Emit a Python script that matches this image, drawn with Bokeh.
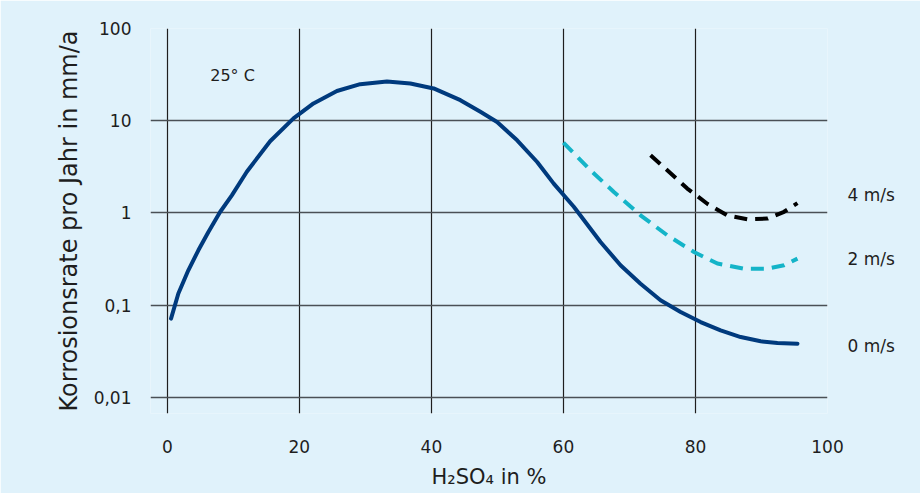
from bokeh.plotting import figure
from bokeh.models import Range1d, FixedTicker, Label, LogAxis
from bokeh.embed import file_html
from bokeh.resources import INLINE

# ---- data ----
x_0ms = [0.56, 1.67, 3.18, 4.70, 6.22, 7.99, 9.77, 12.04, 15.57, 19.11, 22.14, 25.69,
         29.22, 33.27, 36.81, 40.34, 44.39, 47.42, 49.95, 52.99, 56.02, 58.53, 61.57,
         65.62, 68.65, 71.68, 74.71, 77.75, 80.78, 83.81, 86.85, 89.88, 92.42, 95.45]
y_0ms = [0.0716, 0.134, 0.239, 0.394, 0.623, 1.025, 1.55, 2.80, 6.0, 10.6, 15.4, 21.0,
         24.9, 26.6, 25.3, 22.4, 16.7, 12.5, 9.7, 6.14, 3.57, 2.08, 1.17,
         0.485, 0.271, 0.171, 0.113, 0.0843, 0.0657, 0.0534, 0.0452, 0.0406, 0.0389, 0.0383]

x_2ms = [60.0, 64.1, 67.64, 71.68, 75.73, 79.77, 83.32, 87.36, 90.9, 93.42, 95.45]
y_2ms = [5.8, 2.9, 1.69, 0.944, 0.573, 0.378, 0.283, 0.249, 0.249, 0.271, 0.32]

x_4ms = [73.2, 75.73, 78.76, 81.79, 84.82, 87.86, 90.9, 93.42, 95.45]
y_4ms = [4.22, 2.9, 1.84, 1.26, 0.944, 0.855, 0.869, 1.03, 1.28]

series_labels = ["0 m/s", "2 m/s", "4 m/s"]
x_ticks = [0, 20, 40, 60, 80, 100]
y_ticks = [0.01, 0.1, 1, 10, 100]
y_tick_labels = ["0,01", "0,1", "1", "10", "100"]
x_title = "H₂SO₄ in %"
y_title = "Korrosionsrate pro Jahr in mm/a"
note = "25° C"

FONT = "DejaVu Sans"
BG = "#e0f2fb"
TXT = "#1e1e1e"

p = figure(width=920, height=493, y_axis_type="log",
           x_range=Range1d(-2.55, 100), y_range=Range1d(0.0067, 100),
           output_backend="svg", toolbar_location=None,
           min_border_left=150, min_border_right=93,
           min_border_top=28, min_border_bottom=80)
p.background_fill_color = BG
p.border_fill_color = BG
p.outline_line_color = None

# grid
p.xgrid.ticker = FixedTicker(ticks=x_ticks)
p.ygrid.ticker = FixedTicker(ticks=y_ticks)
p.xgrid.grid_line_color = "#1e1e1e"
p.xgrid.grid_line_width = 1.2
p.ygrid.grid_line_color = "#4a5055"
p.ygrid.grid_line_width = 1.5
p.ygrid.minor_grid_line_color = None

# right-hand axis carrying the series names
label_pos = [y_0ms[-1] * 0.95, y_2ms[-1], y_4ms[-1] * 1.22]
raxis = LogAxis(ticker=FixedTicker(ticks=label_pos),
                major_label_overrides={v: t for v, t in zip(label_pos, series_labels)})
p.add_layout(raxis, "right")

for ax in (p.xaxis[0], p.yaxis[0], raxis):
    ax.axis_line_color = None
    ax.major_tick_line_color = None
    ax.minor_tick_line_color = None
    ax.major_label_text_font = FONT
    ax.major_label_text_font_size = "17px"
    ax.major_label_text_color = TXT
    ax.axis_label_text_font = FONT
    ax.axis_label_text_font_style = "normal"
    ax.axis_label_text_color = TXT

p.xaxis[0].axis_label_text_font_size = "21px"
p.yaxis[0].axis_label_text_font_size = "24px"
p.xaxis[0].ticker = FixedTicker(ticks=x_ticks)
p.yaxis[0].ticker = FixedTicker(ticks=y_ticks)
p.yaxis[0].major_label_overrides = {t: l for t, l in zip(y_ticks, y_tick_labels)}
p.yaxis[0].major_label_text_align = "left"
p.xaxis[0].major_label_standoff = 20
p.yaxis[0].major_label_standoff = 13
raxis.major_label_standoff = 14
p.xaxis[0].axis_label = x_title
p.yaxis[0].axis_label = y_title
p.xaxis[0].axis_label_standoff = 9
p.yaxis[0].axis_label_standoff = 8

# curves
p.line(x_0ms, y_0ms, line_color="#003a7d", line_width=4, line_cap="round", line_join="round")
p.line(x_2ms, y_2ms, line_color="#14b4c8", line_width=4, line_dash="13 8", line_join="round")
p.line(x_4ms, y_4ms, line_color="#000000", line_width=4, line_dash="13 8", line_join="round")

p.add_layout(Label(x=6.5, y=31, text=note, text_font=FONT, text_font_size="16px",
                   text_baseline="middle", text_color=TXT))

open("out.html", "w").write(file_html(p, INLINE))
